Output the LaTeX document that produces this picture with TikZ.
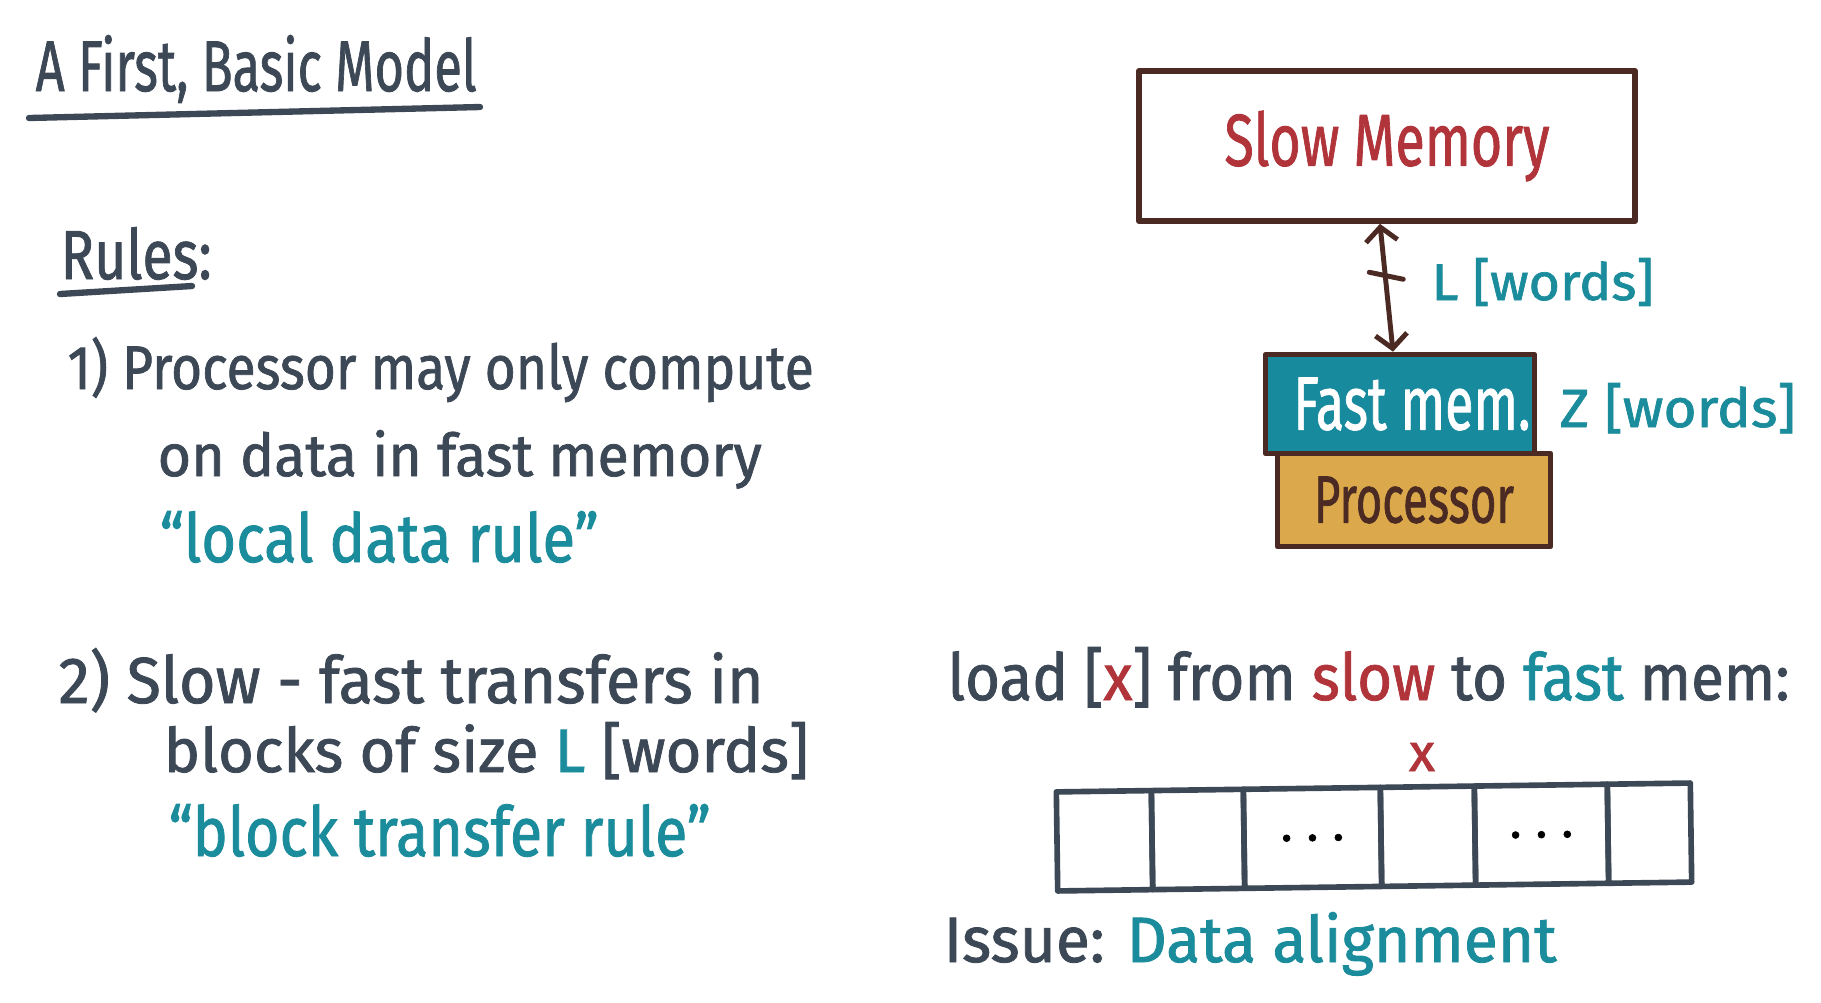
\documentclass[tikz,border=0pt]{standalone}
\usepackage{fontspec}
\setmainfont{Fira Sans}[FakeBold=1.3]
\usetikzlibrary{arrows.meta,calc}
\definecolor{ink}{HTML}{3D4856}
\definecolor{tealink}{HTML}{1B8C9C}
\definecolor{redink}{HTML}{B0343A}
\definecolor{brownink}{HTML}{4A2A22}
\definecolor{fastfill}{HTML}{178A9D}
\definecolor{procfill}{HTML}{DBA94B}
\newdimen\pxu \pxu=0.01cm
\newcommand{\fit}[3]{\resizebox{#1\pxu}{#2\pxu}{#3}}
\begin{document}
\begin{tikzpicture}[x=0.01cm,y=-0.01cm,
  txt/.style={anchor=base west,inner sep=0pt,text=ink},
  pen/.style={line width=1.6pt,line cap=round,line join=round},
  boxed/.style={pen,draw=brownink,inner sep=0pt},
  cell/.style={pen,draw=ink,inner sep=0pt,minimum height=0.99cm},
  barbtip/.tip={Straight Barb[length=4pt,width=9pt]}]
\fill[white] (0,0) rectangle (1821,1002);
\useasboundingbox (0,0) rectangle (1821,1002);

% left column
\node[txt] (title) at (35,91) {\fit{441}{56}{A First, Basic Model}};
\draw[pen,ink,line width=1.8pt] (29,118) -- (480,107);
\node[txt] (rules) at (60,279) {\fit{151}{52}{Rules:}};
\draw[pen,ink,line width=1.8pt] (60,294) -- (192,286);
\node[txt] (l1) at (67,389) {\fit{746}{52}{1) Processor may only compute}};
\node[txt] (l2) at (157,476) {\fit{604}{46}{on data in fast memory}};
\node[txt,text=tealink] (q1) at (159,562) {\fit{439}{51}{“local data rule”}};
\node[txt] (l3) at (58,703) {\fit{705}{55}{2) Slow - fast transfers in}};
\node[txt] (l4) at (163,772) {\fit{645}{50}{blocks of size {\color{tealink}L} [words]}};
\node[txt,text=tealink] (q2) at (168,856) {\fit{542}{52}{“block transfer rule”}};

% memory model
\node[boxed,minimum width=4.96cm,minimum height=1.50cm] (slow) at (1387,146)
  {\fit{325}{55}{\color{redink}Slow Memory}};
\node[boxed,fill=fastfill,minimum width=2.69cm,minimum height=0.99cm] (fast) at (1400,404)
  {\hspace*{24\pxu}\fit{237}{52}{\color{white}Fast mem.}};
\node[boxed,fill=procfill,minimum width=2.73cm,minimum height=0.93cm] (proc) at (1414,500)
  {\fit{200}{46}{\color{brownink}Processor}};
\draw[pen,brownink,line width=1.4pt,barbtip-barbtip] ([xshift=-2pt]slow.south) -- ([xshift=-2pt]fast.north);
\path ([xshift=-2pt]slow.south) -- ([xshift=-2pt]fast.north) coordinate[pos=0.41] (tk);
\draw[pen,brownink,line width=1.4pt] ($(tk)+(-16,-4)$) -- ($(tk)+(18,3)$);
\node[txt,text=tealink] (lw) at (1431,300) {\fit{222}{42}{L [words]}};
\node[txt,text=tealink] (zw) at (1559,427) {\fit{236}{44}{Z [words]}};

% load example
\node[txt] (load) at (947,700) {\fit{842}{53}{load [{\color{redink}x}] from {\color{redink}slow} to {\color{tealink}fast} mem:}};
\begin{scope}[rotate around={0.8:(1373,837)},transform shape]
\node[cell,minimum width=0.95cm] (c1) at (1104.5,837) {};
\node[cell,minimum width=0.92cm] (c2) at (1198,837) {};
\node[cell,minimum width=1.37cm] (c3) at (1312.5,837) {{\fontsize{14}{14}\selectfont .\hspace{4pt}.\hspace{4pt}.}};
\node[cell,minimum width=0.94cm] (c4) at (1428,837) {};
\node[cell,minimum width=1.33cm] (c5) at (1541.5,837) {{\fontsize{14}{14}\selectfont .\hspace{4pt}.\hspace{4pt}.}};
\node[cell,minimum width=0.83cm] (c6) at (1649.5,837) {};
\end{scope}
\node[inner sep=0pt,text=redink] (xm) at (1422,757) {\fit{26}{28}{x}};
\node[txt] (issue) at (943,962) {\fit{613}{50}{Issue: {\color{tealink}Data alignment}}};
\end{tikzpicture}
\end{document}
